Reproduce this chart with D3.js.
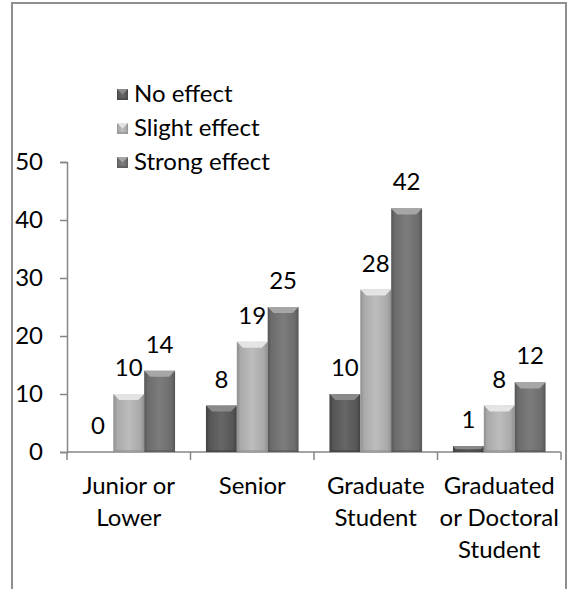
<!DOCTYPE html>
<html>
<head>
<meta charset="utf-8">
<script src="https://cdn.jsdelivr.net/npm/d3@7"></script>
<style>
  html, body { margin: 0; padding: 0; background: #fff; }
  svg text { font-family: Lato, "Open Sans", sans-serif; fill: #000; }
</style>
</head>
<body>
<svg id="chart" width="571" height="589"></svg>
<script>
// Survey responses by academic level
const categories = [["Junior or", "Lower"], ["Senior"], ["Graduate", "Student"], ["Graduated", "or Doctoral", "Student"]];
const seriesNames = ["No effect", "Slight effect", "Strong effect"];
const noEffect = [0, 8, 10, 1];
const slightEffect = [10, 19, 28, 8];
const strongEffect = [14, 25, 42, 12];
const yTicks = [0, 10, 20, 30, 40, 50];

const series = [noEffect, slightEffect, strongEffect];
const palette = [
  { body: "#565656", light: "#676767", top: "#8a8a8a", edge: "#404040" },
  { body: "#a9a9a9", light: "#bdbdbd", top: "#e4e4e4", edge: "#8e8e8e" },
  { body: "#6c6c6c", light: "#7c7c7c", top: "#a6a6a6", edge: "#555" }
];
const fontSize = 24;

const svg = d3.select("#chart");
const defs = svg.append("defs");
palette.forEach((p, i) => {
  const g = defs.append("linearGradient").attr("id", "grad" + i)
    .attr("x1", "0").attr("x2", "1").attr("y1", "0").attr("y2", "0");
  g.append("stop").attr("offset", "0").attr("stop-color", p.edge);
  g.append("stop").attr("offset", "0.12").attr("stop-color", p.body);
  g.append("stop").attr("offset", "0.5").attr("stop-color", p.light);
  g.append("stop").attr("offset", "0.88").attr("stop-color", p.body);
  g.append("stop").attr("offset", "1").attr("stop-color", p.edge);
});

// outer frame
svg.append("path")
  .attr("d", "M12,589 V3 H566 V589")
  .attr("fill", "none").attr("stroke", "#8f8f8f").attr("stroke-width", 2);

const x0 = d3.scaleBand().domain(d3.range(categories.length)).range([67, 561]).paddingInner(0).paddingOuter(0);
const x1 = d3.scaleBand().domain(d3.range(series.length)).range([0, x0.bandwidth()]).paddingOuter(0.5).paddingInner(0);
const y = d3.scaleLinear().domain([0, 50]).range([452, 162]);

// y axis
const yAxis = svg.append("g").attr("transform", "translate(67,0)")
  .call(d3.axisLeft(y).tickValues(yTicks).tickSize(7).tickPadding(17).tickFormat(d3.format("d")));
yAxis.select(".domain").attr("stroke", "#868686").attr("stroke-width", 1.5);
yAxis.selectAll(".tick line").attr("stroke", "#868686").attr("stroke-width", 1.5);
yAxis.selectAll(".tick text").attr("font-size", fontSize).attr("font-family", "Lato, sans-serif").attr("fill", "#000");

// x axis baseline with category ticks
const xg = svg.append("g");
xg.append("line").attr("x1", 67).attr("x2", 561).attr("y1", y(0)).attr("y2", y(0))
  .attr("stroke", "#868686").attr("stroke-width", 1.5);
const boundaries = d3.range(categories.length + 1).map(i => i < categories.length ? x0(i) : x0(i - 1) + x0.bandwidth());
xg.selectAll("line.tk").data(boundaries).join("line").attr("class", "tk")
  .attr("x1", d => d).attr("x2", d => d).attr("y1", y(0)).attr("y2", y(0) + 8)
  .attr("stroke", "#868686").attr("stroke-width", 1.5);

// category labels
categories.forEach((lines, i) => {
  const t = svg.append("text").attr("text-anchor", "middle").attr("font-size", fontSize)
    .attr("x", x0(i) + x0.bandwidth() / 2);
  lines.forEach((ln, j) => {
    t.append("tspan").attr("x", x0(i) + x0.bandwidth() / 2).attr("y", 494 + j * 32).text(ln);
  });
});

// bars with bevelled tops
function bevelBar(g, x, top, w, h, s) {
  const p = palette[s];
  g.append("rect").attr("x", x).attr("y", top).attr("width", w).attr("height", h)
    .attr("fill", "url(#grad" + s + ")");
  const b = Math.min(6, h / 2);
  if (h > 0) {
    g.append("polygon")
      .attr("points", [[x, top], [x + w, top], [x + w - b, top + b], [x + b, top + b]].map(d => d.join(",")).join(" "))
      .attr("fill", p.top);
    g.append("polygon")
      .attr("points", [[x, top + h], [x + w, top + h], [x + w - 2, top + h - 2], [x + 2, top + h - 2]].map(d => d.join(",")).join(" "))
      .attr("fill", p.edge).attr("opacity", 0.6);
  }
}

const barsG = svg.append("g");
series.forEach((vals, s) => {
  vals.forEach((v, i) => {
    const bx = x0(i) + x1(s);
    const bw = x1.bandwidth();
    bevelBar(barsG, bx, y(v), bw, y(0) - y(v), s);
    barsG.append("text").attr("text-anchor", "middle").attr("font-size", fontSize)
      .attr("x", bx + bw / 2).attr("y", y(v) - 18).text(v);
  });
});

// legend
const lg = svg.append("g");
seriesNames.forEach((name, s) => {
  const cy = 94 + s * 34;
  bevelBar(lg, 117, cy - 5, 11, 11, s);
  lg.append("text").attr("x", 134).attr("y", cy).attr("dy", "0.35em").attr("font-size", fontSize).text(name);
});
</script>
</body>
</html>
